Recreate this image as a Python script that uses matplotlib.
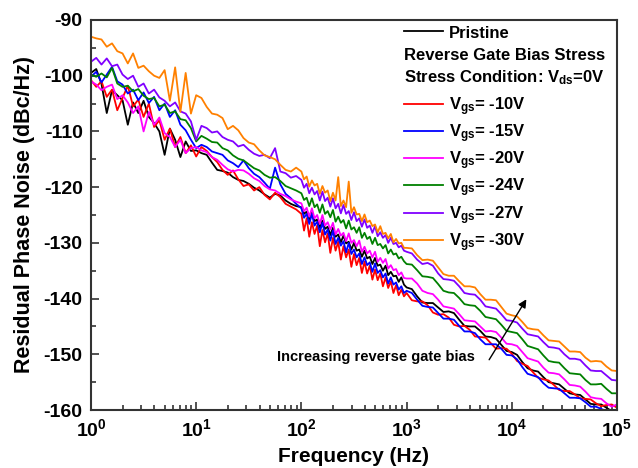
import numpy as np
import matplotlib
matplotlib.use("Agg")
import matplotlib.pyplot as plt
from matplotlib.ticker import LogLocator, MultipleLocator, NullFormatter

plt.rcParams['font.family'] = ['Liberation Sans', 'DejaVu Sans']
plt.rcParams['font.weight'] = 'bold'
plt.rcParams['mathtext.fontset'] = 'custom'
plt.rcParams['mathtext.rm'] = 'Liberation Sans:bold'
plt.rcParams['mathtext.it'] = 'Liberation Sans:bold'
plt.rcParams['mathtext.bf'] = 'Liberation Sans:bold'
plt.rcParams['mathtext.default'] = 'rm'
plt.rcParams['axes.unicode_minus'] = False

# log10 of frequency (Hz) for the sampled points
freq_exp = [0.00, 0.05, 0.10, 0.15, 0.20, 0.25, 0.30, 0.35, 0.40, 0.45,
            0.50, 0.55, 0.60, 0.65, 0.70, 0.75, 0.80, 0.85, 0.90, 0.95,
            1.00, 1.05, 1.10, 1.15, 1.20, 1.25, 1.30, 1.35, 1.40, 1.45,
            1.50, 1.55, 1.60, 1.65, 1.70, 1.75, 1.80, 1.85, 1.90, 1.95,
            2.000, 2.025, 2.050, 2.075, 2.100, 2.125, 2.150, 2.175, 2.200, 2.225,
            2.250, 2.275, 2.300, 2.325, 2.350, 2.375, 2.400, 2.425, 2.450, 2.475,
            2.500, 2.525, 2.550, 2.575, 2.600, 2.625, 2.650, 2.675, 2.700, 2.725,
            2.750, 2.775, 2.800, 2.825, 2.850, 2.875, 2.900, 2.925, 2.950, 2.975,
            3.00, 3.05, 3.10, 3.15, 3.20, 3.25, 3.30, 3.35, 3.40, 3.45,
            3.50, 3.55, 3.60, 3.65, 3.70, 3.75, 3.80, 3.85, 3.90, 3.95,
            4.00, 4.05, 4.10, 4.15, 4.20, 4.25, 4.30, 4.35, 4.40, 4.45,
            4.50, 4.55, 4.60, 4.65, 4.70, 4.75, 4.80, 4.85, 4.90, 4.95, 5.00]

pristine = [-99.5, -98.8, -101.5, -106.7, -102.6, -103.5, -104.4, -108.8, -104.8, -106.7,
            -104.5, -107.4, -108.5, -110.0, -114.2, -109.5, -111.5, -114.6, -111.8, -113.5,
            -113.4, -113.9, -114.2, -115.6, -116.9, -117.1, -117.4, -118.2, -118.7, -118.9,
            -119.4, -120.1, -120.6, -121.3, -121.9, -121.2, -121.5, -122.4, -123.0, -123.4,
            -123.6, -124.8, -124.4, -125.9, -124.6, -126.1, -125.8, -127.3, -126.0, -127.5,
            -127.1, -128.6, -127.3, -128.9, -128.5, -129.9, -128.7, -130.1, -129.8, -131.2,
            -130.0, -131.4, -131.2, -132.5, -131.4, -132.8, -132.5, -133.8, -132.7, -134.1,
            -133.9, -135.0, -134.1, -135.8, -135.2, -136.0, -135.9, -137.0, -136.2, -137.5,
            -138.0, -138.3, -139.6, -140.7, -140.8, -140.8, -141.6, -142.4, -142.3, -142.6,
            -143.8, -144.9, -145.0, -145.0, -145.8, -146.8, -146.9, -147.2, -148.3, -149.4,
            -149.6, -150.1, -151.4, -152.5, -152.9, -153.1, -154.1, -155.0, -155.2, -155.4,
            -156.2, -157.0, -157.2, -157.3, -158.1, -158.9, -159.0, -159.0, -159.6, -160.2, -160.0]

vgs_10 = [-100.8, -102.0, -101.0, -103.8, -102.5, -106.2, -104.0, -101.8, -105.5, -104.3,
          -107.4, -105.0, -109.2, -108.0, -111.5, -109.5, -112.8, -111.0, -113.9, -112.5,
          -114.5, -112.8, -113.5, -114.6, -115.5, -116.9, -117.8, -117.0, -118.6, -119.8,
          -119.5, -120.6, -120.0, -121.4, -122.2, -121.0, -121.8, -123.0, -123.5, -124.0,
          -124.8, -127.8, -125.6, -128.9, -126.3, -128.4, -126.9, -130.6, -127.7, -129.9,
          -128.3, -131.8, -129.1, -131.4, -129.8, -133.0, -130.6, -132.6, -131.2, -134.3,
          -132.0, -134.0, -132.7, -135.4, -133.4, -135.5, -134.1, -136.6, -134.8, -136.7,
          -135.5, -137.8, -136.2, -138.1, -136.9, -139.0, -137.6, -139.4, -138.4, -139.6,
          -139.0, -140.3, -140.5, -140.5, -141.2, -142.5, -142.9, -142.8, -143.4, -144.7,
          -145.0, -144.9, -145.6, -146.8, -146.9, -147.0, -148.0, -149.0, -148.9, -149.0,
          -149.9, -151.2, -151.7, -152.1, -153.2, -154.2, -154.5, -154.7, -155.5, -156.4,
          -156.6, -156.6, -157.2, -157.9, -158.0, -158.1, -158.8, -159.3, -159.1, -159.0, -159.6]

vgs_15 = [-100.2, -99.3, -101.2, -99.8, -98.4, -101.0, -101.6, -103.2, -102.5, -104.4,
          -103.0, -104.9, -103.8, -106.2, -105.0, -107.4, -106.2, -108.8, -109.8, -111.5,
          -113.0, -112.4, -112.8, -113.6, -113.9, -114.2, -115.2, -115.7, -116.4, -115.2,
          -116.6, -117.6, -118.2, -119.2, -120.3, -116.5, -119.5, -121.2, -122.0, -123.0,
          -123.8, -125.5, -124.8, -126.6, -124.8, -126.9, -126.2, -128.1, -126.4, -128.5,
          -127.6, -129.6, -127.8, -130.2, -129.1, -130.5, -129.7, -131.7, -130.0, -132.0,
          -131.2, -132.6, -131.9, -133.8, -132.6, -134.0, -133.5, -135.2, -133.7, -135.4,
          -134.9, -136.2, -135.5, -137.3, -136.2, -137.5, -137.1, -138.4, -137.8, -139.0,
          -138.6, -139.0, -140.2, -141.3, -141.5, -141.6, -142.6, -143.6, -143.6, -143.8,
          -144.9, -145.9, -145.9, -146.2, -147.3, -148.2, -148.2, -148.2, -149.0, -150.1,
          -150.2, -150.9, -152.3, -153.5, -153.8, -154.1, -155.2, -156.0, -156.1, -156.2,
          -157.0, -157.8, -157.8, -157.9, -158.6, -159.4, -159.4, -159.8, -160.2, -160.6, -161.0]

vgs_20 = [-101.0, -101.6, -102.6, -102.0, -101.6, -104.2, -103.5, -104.8, -106.7, -105.5,
          -110.0, -106.5, -108.8, -107.5, -110.3, -111.0, -112.8, -111.5, -113.9, -113.0,
          -112.8, -113.4, -113.7, -114.6, -115.1, -116.0, -116.8, -117.2, -116.9, -117.0,
          -117.6, -118.4, -118.9, -119.8, -120.4, -120.6, -121.2, -121.6, -122.2, -122.6,
          -122.9, -124.3, -123.7, -125.3, -123.8, -125.6, -125.0, -126.6, -125.0, -126.9,
          -126.3, -127.6, -126.4, -128.5, -127.5, -128.7, -128.2, -129.7, -128.3, -130.0,
          -129.5, -130.6, -129.6, -131.6, -130.7, -131.9, -131.4, -132.6, -131.6, -133.4,
          -132.7, -133.6, -132.9, -134.6, -134.0, -134.9, -134.7, -135.8, -135.3, -136.3,
          -136.4, -136.4, -137.3, -138.6, -139.0, -139.2, -140.2, -141.4, -141.6, -141.8,
          -142.8, -143.9, -144.0, -144.1, -145.0, -145.9, -145.8, -146.0, -147.0, -148.1,
          -148.2, -148.5, -149.6, -150.7, -151.0, -151.3, -152.4, -153.3, -153.4, -153.6,
          -154.5, -155.5, -155.6, -155.8, -156.7, -157.7, -157.9, -158.0, -158.8, -159.4, -159.0]

vgs_24 = [-99.8, -100.2, -99.6, -100.3, -98.6, -101.4, -102.0, -101.8, -102.8, -102.4,
          -103.6, -104.2, -104.0, -105.5, -105.2, -106.7, -106.4, -107.8, -108.0, -109.4,
          -111.8, -110.8, -111.3, -111.9, -112.0, -113.0, -113.4, -114.3, -114.9, -115.2,
          -115.9, -116.6, -117.0, -117.8, -118.3, -118.2, -118.9, -119.8, -120.2, -120.6,
          -121.1, -122.3, -121.9, -123.4, -122.0, -123.6, -123.1, -124.6, -123.1, -124.8,
          -124.3, -125.4, -124.1, -126.2, -125.3, -126.4, -125.9, -127.4, -126.0, -127.6,
          -127.2, -128.2, -127.2, -129.1, -128.2, -129.3, -128.9, -130.2, -129.1, -130.4,
          -130.2, -131.0, -130.4, -131.9, -131.2, -132.1, -131.9, -132.8, -132.5, -133.3,
          -133.8, -133.9, -134.9, -136.0, -136.1, -136.3, -137.4, -138.6, -138.9, -139.0,
          -139.9, -141.0, -141.2, -141.3, -142.2, -143.3, -143.5, -143.7, -144.7, -145.8,
          -146.0, -146.2, -147.3, -148.5, -148.8, -149.1, -150.2, -151.2, -151.4, -151.5,
          -152.5, -153.4, -153.5, -153.6, -154.6, -155.4, -155.4, -155.3, -156.2, -157.0, -157.0]

vgs_27 = [-97.5, -96.8, -98.0, -96.9, -98.3, -98.0, -99.8, -100.6, -100.0, -102.0,
          -101.4, -103.2, -102.5, -103.9, -104.5, -105.5, -104.8, -106.4, -106.8, -108.2,
          -111.5, -109.0, -109.4, -110.2, -110.0, -111.0, -111.5, -111.8, -112.7, -112.4,
          -113.3, -114.0, -114.4, -114.2, -114.8, -113.0, -117.2, -117.5, -118.3, -118.0,
          -118.7, -120.1, -119.4, -121.1, -120.1, -121.3, -120.7, -122.4, -120.8, -122.5,
          -121.9, -123.5, -122.0, -123.8, -123.0, -124.7, -123.2, -124.8, -124.3, -125.9,
          -124.5, -126.1, -125.6, -127.1, -125.8, -127.3, -126.9, -128.2, -127.0, -128.8,
          -128.1, -129.1, -128.6, -130.0, -129.1, -130.2, -130.0, -130.8, -130.5, -131.4,
          -131.6, -131.9, -133.0, -133.8, -133.6, -134.1, -135.5, -136.5, -136.6, -136.8,
          -137.8, -139.0, -139.2, -139.3, -140.2, -141.4, -141.6, -141.8, -142.8, -143.9,
          -144.0, -144.3, -145.4, -146.4, -146.6, -146.8, -147.8, -148.7, -148.8, -149.0,
          -150.0, -150.8, -150.8, -151.0, -152.0, -152.9, -153.0, -153.0, -153.8, -154.6, -154.7]

vgs_30 = [-93.0, -93.3, -93.5, -94.8, -94.2, -95.6, -96.0, -97.8, -96.0, -98.6,
          -98.2, -99.2, -100.0, -100.4, -99.0, -104.5, -98.5, -106.5, -99.5, -106.8,
          -103.5, -104.0, -105.6, -106.8, -107.0, -107.6, -109.6, -109.0, -109.8, -111.2,
          -112.0, -112.3, -113.4, -114.3, -114.6, -115.0, -116.0, -116.9, -117.2, -116.5,
          -117.2, -118.6, -118.1, -119.9, -118.8, -119.7, -119.4, -121.2, -119.8, -121.0,
          -120.6, -122.5, -121.0, -122.4, -118.2, -123.4, -122.4, -123.6, -119.0, -124.6,
          -123.6, -124.9, -124.8, -126.1, -124.9, -126.3, -126.0, -127.0, -126.7, -128.1,
          -127.0, -128.4, -128.2, -129.2, -128.4, -129.9, -129.3, -130.1, -130.0, -130.9,
          -130.9, -131.0, -132.2, -133.1, -133.0, -133.2, -134.4, -135.6, -135.9, -135.9,
          -136.9, -137.8, -137.8, -138.0, -139.2, -140.2, -140.2, -140.3, -141.5, -142.7,
          -143.0, -143.2, -144.2, -145.3, -145.5, -145.6, -146.6, -147.5, -147.6, -147.7,
          -148.6, -149.5, -149.5, -149.6, -150.6, -151.3, -151.2, -151.3, -152.2, -152.9, -153.0]

series = [pristine, vgs_10, vgs_15, vgs_20, vgs_24, vgs_27, vgs_30]
colors = ['black', '#ff0000', '#0000ff', '#ff00ff', '#008000', '#8000ff', '#ff8000']
labels = ['Pristine', 'V$_{gs}$= -10V', 'V$_{gs}$= -15V', 'V$_{gs}$= -20V',
          'V$_{gs}$= -24V', 'V$_{gs}$= -27V', 'V$_{gs}$= -30V']

freq = 10 ** np.array(freq_exp)

fig = plt.figure(figsize=(6.38, 4.68), dpi=100)
ax = fig.add_axes([0.1426, 0.1239, 0.8245, 0.8334])

for vals, c in zip(series, colors):
    ax.plot(freq, vals, color=c, lw=1.3)

ax.set_xscale('log')
ax.set_xlim(1, 1e5)
ax.set_ylim(-160, -90)
ax.yaxis.set_major_locator(MultipleLocator(10))
ax.yaxis.set_minor_locator(MultipleLocator(5))
ax.xaxis.set_major_locator(LogLocator(base=10, numticks=10))
ax.xaxis.set_minor_locator(LogLocator(base=10, subs=np.arange(2, 10), numticks=20))
ax.xaxis.set_minor_formatter(NullFormatter())

for s in ax.spines.values():
    s.set_linewidth(1.5)
    s.set_color('#333333')
ax.tick_params(which='both', direction='in', top=False, right=False,
               color='#333333', width=1.2, labelsize=14)
ax.tick_params(which='major', length=6, pad=6)
ax.tick_params(which='minor', length=3.5)

ax.set_xlabel('Frequency (Hz)', fontsize=15, fontweight='bold', labelpad=5)
ax.set_ylabel('Residual Phase Noise (dBc/Hz)', fontsize=15.5, fontweight='bold', labelpad=6)

# legend drawn by hand so the two text rows line up with the handles
x0, x1, xt = 0.595, 0.669, 0.681
rows_y = [0.955, 0.769, 0.700, 0.631, 0.562, 0.490, 0.421]
for lab, c, yb in zip(labels, colors, rows_y):
    ax.plot([x0, x1], [yb + 0.016, yb + 0.016], color=c, lw=1.3, transform=ax.transAxes)
    ax.text(xt, yb, lab, transform=ax.transAxes, fontsize=12, fontweight='bold', va='baseline')
ax.text(x0, 0.897, 'Reverse Gate Bias Stress', transform=ax.transAxes,
        fontsize=12, fontweight='bold', va='baseline')
ax.text(x0, 0.840, 'Stress Condition: V$_{ds}$=0V', transform=ax.transAxes,
        fontsize=12, fontweight='bold', va='baseline')

ax.annotate('', xy=(14200, -139.7), xytext=(5900, -151.4),
            arrowprops=dict(arrowstyle='-|>', color='black', lw=1, mutation_scale=12))
ax.text(59, -150.5, 'Increasing reverse gate bias', fontsize=10.5, fontweight='bold', va='center')

fig.savefig('out.png', dpi=100)
